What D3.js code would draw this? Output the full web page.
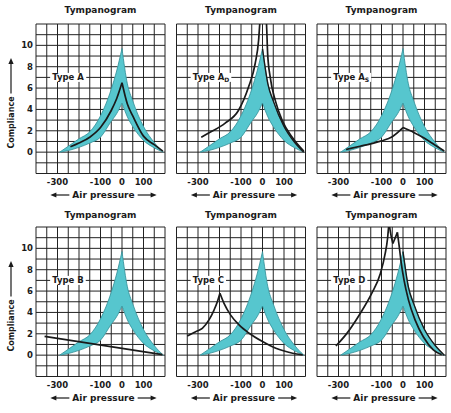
<!DOCTYPE html>
<html>
<head>
<style>
body { margin: 0; background: #fff; }
</style>
</head>
<body>
<script src="https://d3js.org/d3.v7.min.js"></script>
<script>
// axis values
var xTicks = [-300, -100, 0, 100];
var yTicks = [0, 2, 4, 6, 8, 10];
var xGrid = d3.range(-400, 201, 50);
var yGrid = d3.range(-2, 13, 1);

// normal region (cyan band), same in every panel
var bandX     = [-290, -250, -200, -150, -100, -50, -25, 0, 25, 50, 100, 150, 192];
var bandUpper = [0, 0.55, 1.25, 1.9, 3.4, 5.9, 7.6, 9.7, 6.4, 4.8, 2.4, 0.9, 0];
var bandLower = [0, 0.15, 0.45, 0.85, 1.4, 2.9, 3.6, 4.6, 3.3, 2.4, 1.1, 0.4, 0];

// tympanogram curves
var typeAx  = [-240, -200, -150, -100, -50, -25, 0, 25, 50, 100, 150, 190];
var typeAy  = [0.5, 0.85, 1.4, 2.3, 3.9, 5.0, 6.5, 4.5, 3.4, 1.5, 0.7, 0.1];
var typeADx = [-285, -240, -175, -112, -65, -34, -18, -12, 3, 18, 24, 36, 60, 91, 138, 192];
var typeADy = [1.4, 1.9, 2.7, 3.9, 6.1, 8.3, 10.5, 12.2, 14, 12.2, 9.2, 7.0, 4.8, 3.0, 1.4, 0.1];
var typeASx = [-265, -200, -150, -100, -50, 0, 50, 100, 150, 192];
var typeASy = [0.25, 0.55, 0.78, 1.05, 1.45, 2.3, 1.85, 1.3, 0.65, 0.1];
var typeBx  = [-360, 188];
var typeBy  = [1.75, 0.05];
var typeCx  = [-350, -311, -280, -249, -226, -210, -198, -179, -148, -109, -62, 0, 62, 140, 187];
var typeCy  = [1.8, 2.2, 2.5, 3.3, 4.2, 5.0, 5.8, 4.85, 3.75, 2.83, 2.05, 1.27, 0.64, 0.18, 0.02];
var typeDx  = [-312, -261, -199, -145, -106, -83, -72, -65, -60, -47, -26, -17, -10, 5, 25, 56, 95, 141, 180];
var typeDy  = [0.86, 2.04, 3.9, 5.8, 7.6, 9.5, 10.9, 12.5, 11.7, 10.45, 11.5, 10.1, 8.9, 7.0, 5.2, 3.3, 1.7, 0.5, 0.03];

var titles   = ["Tympanogram", "Tympanogram", "Tympanogram", "Tympanogram", "Tympanogram", "Tympanogram"];
var typeName = ["A", "A", "A", "B", "C", "D"];
var typeSub  = ["", "D", "S", "", "", ""];
var curveX   = [typeAx, typeADx, typeASx, typeBx, typeCx, typeDx];
var curveY   = [typeAy, typeADy, typeASy, typeBy, typeCy, typeDy];
var edgeLine = [false, true, false, false, false, true];

// layout
var colX = [36, 176.5, 317], rowY = [24, 227];
var pw = 129, ph = 149.5;
var titleY = [12.5, 218];
var ink = "#1a1a1a";

var svg = d3.select("body").append("svg")
    .attr("width", 451)
    .attr("height", 413)
    .style("font-family", "'DejaVu Sans', Verdana, sans-serif")
    .style("font-weight", "bold");
var defs = svg.append("defs");

// split a series into pieces at each peak/valley so cusps stay sharp
function splitAtExtrema(xs, ys) {
    var segs = [], cur = [[xs[0], ys[0]]];
    for (var k = 1; k < xs.length; k++) {
        cur.push([xs[k], ys[k]]);
        if (k < xs.length - 1) {
            var a = ys[k] - ys[k - 1], b = ys[k + 1] - ys[k];
            if (a * b < 0) { segs.push(cur); cur = [[xs[k], ys[k]]]; }
        }
    }
    segs.push(cur);
    return segs;
}

for (var i = 0; i < 6; i++) {
    var c = i % 3, r = Math.floor(i / 3);
    var x = d3.scaleLinear().domain([-400, 200]).range([colX[c], colX[c] + pw]);
    var y = d3.scaleLinear().domain([-2, 12]).range([rowY[r] + ph, rowY[r]]);
    var g = svg.append("g");

    var line = d3.line()
        .x(function (d) { return x(d[0]); })
        .y(function (d) { return y(d[1]); })
        .curve(d3.curveMonotoneX);

    // band outline: upper left, upper right, lower right back, lower left back
    var peak = d3.maxIndex(bandUpper);
    var up = bandX.map(function (d, k) { return [d, bandUpper[k]]; });
    var lo = bandX.map(function (d, k) { return [d, bandLower[k]]; });
    var parts = [
        up.slice(0, peak + 1),
        up.slice(peak),
        lo.slice(peak).reverse(),
        lo.slice(0, peak + 1).reverse()
    ];
    var bandD = parts.map(function (p, k) {
        var s = line(p);
        return k === 0 ? s : "L" + s.slice(1);
    }).join("") + "Z";

    defs.append("clipPath").attr("id", "clip" + i)
        .append("rect")
        .attr("x", colX[c]).attr("y", rowY[r])
        .attr("width", pw).attr("height", ph);
    // grid is kept out of the band
    var frame = "M" + (colX[c] - 2) + "," + (rowY[r] - 2) + "h" + (pw + 4) + "v" + (ph + 4) + "h" + (-pw - 4) + "Z";
    defs.append("clipPath").attr("id", "gclip" + i)
        .append("path").attr("d", frame + bandD).attr("clip-rule", "evenodd");

    // grid
    var gp = d3.path();
    xGrid.forEach(function (d) { gp.moveTo(x(d), y(-2)); gp.lineTo(x(d), y(12)); });
    yGrid.forEach(function (d) { gp.moveTo(x(-400), y(d)); gp.lineTo(x(200), y(d)); });
    g.append("path").attr("d", gp.toString())
        .attr("clip-path", "url(#gclip" + i + ")")
        .attr("fill", "none").attr("stroke", "#222").attr("stroke-width", 1);

    // normal band
    g.append("path").attr("d", bandD)
        .attr("fill", "#56c6ce")
        .attr("stroke", "#2e8d96").attr("stroke-width", 0.8);

    var cg = g.append("g").attr("clip-path", "url(#clip" + i + ")");
    if (edgeLine[i]) {
        cg.append("path").attr("d", line(up.slice(peak)))
            .attr("fill", "none").attr("stroke", ink).attr("stroke-width", 1.4);
    }
    splitAtExtrema(curveX[i], curveY[i]).forEach(function (s) {
        cg.append("path").attr("d", line(s))
            .attr("fill", "none").attr("stroke", ink).attr("stroke-width", 1.7);
    });

    // type label with white background
    var lab = g.append("text")
        .attr("x", x(-325)).attr("y", y(7)).attr("dy", "0.36em")
        .attr("font-size", 8.5).attr("fill", ink)
        .text("Type " + typeName[i]);
    if (typeSub[i]) {
        lab.append("tspan").attr("font-size", 6).attr("dy", 2).text(typeSub[i]);
    }
    var bb = lab.node().getBBox();
    g.insert("rect", function () { return lab.node(); })
        .attr("x", bb.x - 2).attr("y", y(7) - 4.5)
        .attr("width", bb.width + 4).attr("height", 9)
        .attr("fill", "#fff");

    // title
    svg.append("text")
        .attr("x", colX[c] + pw / 2).attr("y", titleY[r])
        .attr("text-anchor", "middle").attr("font-size", 9).attr("fill", ink)
        .text(titles[i]);

    // x tick labels
    svg.selectAll(null).data(xTicks).enter().append("text")
        .attr("x", function (d) { return x(d); })
        .attr("y", rowY[r] + ph + 11.5)
        .attr("text-anchor", "middle").attr("font-size", 8.5).attr("fill", ink)
        .text(function (d) { return d; });

    // x axis title with arrows
    var cx = colX[c] + pw / 2 + 3, ay = rowY[r] + ph + 24.5;
    var at = svg.append("text")
        .attr("x", cx).attr("y", ay)
        .attr("text-anchor", "middle").attr("font-size", 9).attr("fill", ink)
        .text("Air pressure");
    var tw = at.node().getComputedTextLength();
    var my = ay - 3;
    svg.append("line").attr("x1", cx - tw / 2 - 3).attr("x2", cx - tw / 2 - 18)
        .attr("y1", my).attr("y2", my).attr("stroke", ink).attr("stroke-width", 1.2);
    svg.append("path").attr("d", "M" + (cx - tw / 2 - 22) + "," + my + "l6,-2.6v5.2z").attr("fill", ink);
    svg.append("line").attr("x1", cx + tw / 2 + 3).attr("x2", cx + tw / 2 + 18)
        .attr("y1", my).attr("y2", my).attr("stroke", ink).attr("stroke-width", 1.2);
    svg.append("path").attr("d", "M" + (cx + tw / 2 + 22) + "," + my + "l-6,-2.6v5.2z").attr("fill", ink);

    // y axis on the left column only
    if (c === 0) {
        svg.selectAll(null).data(yTicks).enter().append("text")
            .attr("x", colX[0] - 3)
            .attr("y", function (d) { return y(d); })
            .attr("dy", "0.35em")
            .attr("text-anchor", "end").attr("font-size", 8.5).attr("fill", ink)
            .text(function (d) { return d; });

        var ly = rowY[r] + ph - 51;
        var yl = svg.append("text")
            .attr("transform", "translate(14," + ly + ") rotate(-90)")
            .attr("text-anchor", "middle").attr("font-size", 8).attr("fill", ink)
            .text("Compliance");
        var lw = yl.node().getComputedTextLength();
        svg.append("line").attr("x1", 11).attr("x2", 11)
            .attr("y1", ly - lw / 2 - 3).attr("y2", rowY[r] + 40)
            .attr("stroke", ink).attr("stroke-width", 1.2);
        svg.append("path").attr("d", "M11," + (rowY[r] + 34) + "l-2.6,6h5.2z").attr("fill", ink);
    }
}
</script>
</body>
</html>
